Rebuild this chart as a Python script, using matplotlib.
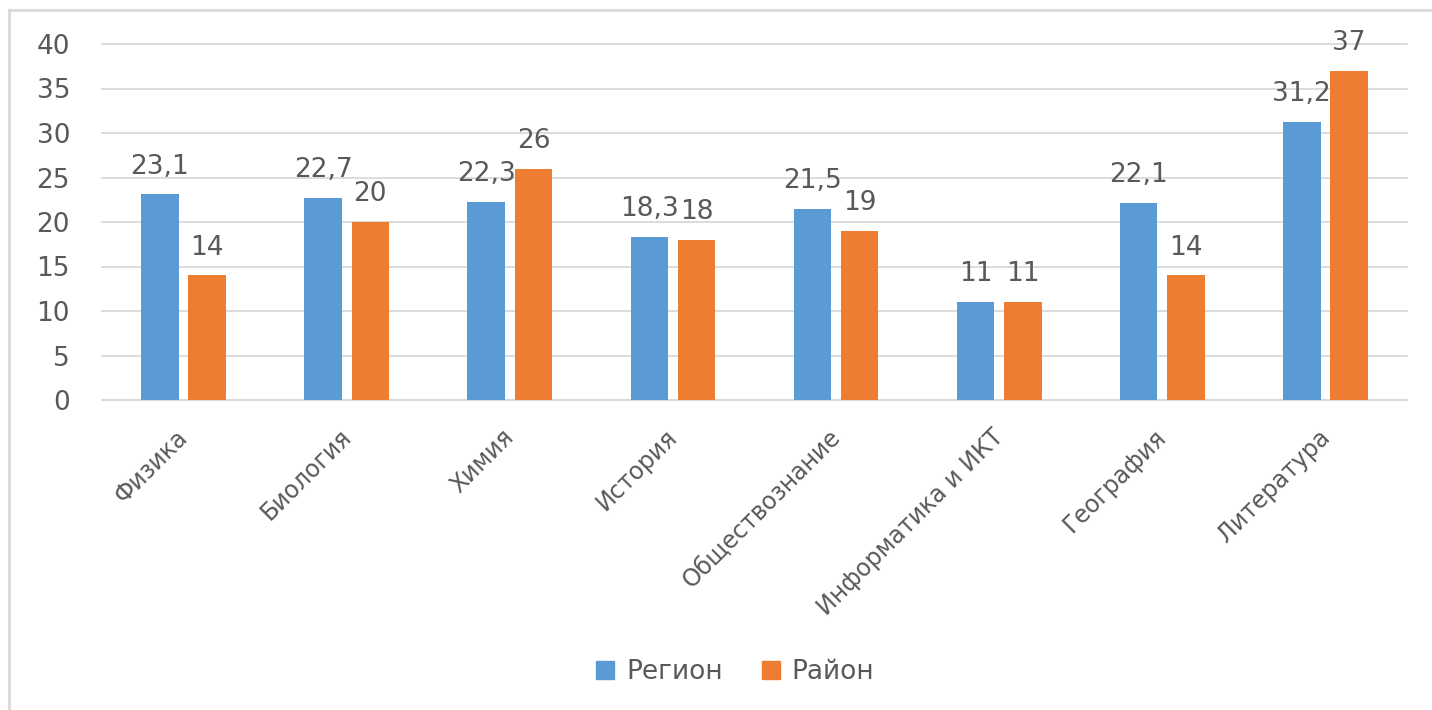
import numpy as np
import matplotlib
matplotlib.use("Agg")
import matplotlib.pyplot as plt
from matplotlib.lines import Line2D
from matplotlib.transforms import ScaledTranslation

# data
subjects = ['Физика', 'Биология', 'Химия', 'История', 'Обществознание',
            'Информатика и ИКТ', 'География', 'Литература']
region = [23.1, 22.7, 22.3, 18.3, 21.5, 11, 22.1, 31.2]
district = [14, 20, 26, 18, 19, 11, 14, 37]
series_names = ['Регион', 'Район']
yticks = [0, 5, 10, 15, 20, 25, 30, 35, 40]

blue = '#5B9BD5'
orange = '#ED7D31'
txt = '#595959'
plt.rcParams['font.family'] = ['DejaVu Sans']

fig = plt.figure(figsize=(14.32, 7.10), dpi=100)
ax = fig.add_axes([102/1432, 1-400/710, 1305/1432, 356/710])

x = np.arange(len(subjects))
w = 0.23
off = 0.145
b1 = ax.bar(x - off, region, w, color=blue, label=series_names[0], zorder=3)
b2 = ax.bar(x + off, district, w, color=orange, label=series_names[1], zorder=3)

def fmt(v):
    return f'{v:g}'.replace('.', ',')

for bars, vals in ((b1, region), (b2, district)):
    for rect, v in zip(bars, vals):
        ax.annotate(fmt(v), (rect.get_x() + rect.get_width()/2, v),
                    xytext=(0, 15), textcoords='offset points',
                    ha='center', va='baseline', fontsize=19, color=txt)

ax.set_xlim(-0.5, len(subjects) - 0.5)
ax.set_ylim(0, 40)
ax.set_yticks(yticks)
ax.yaxis.grid(True, color='#D9D9D9', linewidth=1.3, zorder=0)
for gl in ax.get_ygridlines():
    gl.set_clip_on(False)
ax.set_axisbelow(True)
for s in ['left', 'right', 'top']:
    ax.spines[s].set_visible(False)
ax.spines['bottom'].set_color('#D9D9D9')
ax.spines['bottom'].set_linewidth(1.3)
ax.tick_params(axis='both', length=0, colors=txt, labelsize=19)
ax.tick_params(axis='y', pad=23)

ax.set_xticks(x)
ax.set_xticklabels(subjects, rotation=45, ha='right', va='top',
                   rotation_mode='anchor', fontsize=17)
shift = ScaledTranslation(-8/100, -20/100, fig.dpi_scale_trans)
for lab in ax.get_xticklabels():
    lab.set_transform(lab.get_transform() + shift)

handles = [Line2D([], [], marker='s', linestyle='none', markersize=13,
                  markerfacecolor=c, markeredgecolor=c) for c in (blue, orange)]
fig.legend(handles, series_names, loc='center', bbox_to_anchor=(0.512, 1-672/710),
           ncol=2, frameon=False, fontsize=19, labelcolor=txt,
           handletextpad=0.3, columnspacing=1.3, handlelength=1.0)

# chart area border (only left and top edges are visible)
fig.add_artist(Line2D([9/1432, 9/1432], [0, 1-10/710], transform=fig.transFigure,
                      color='#D9D9D9', linewidth=2))
fig.add_artist(Line2D([9/1432, 1], [1-10/710, 1-10/710], transform=fig.transFigure,
                      color='#D9D9D9', linewidth=2))

fig.savefig('out.png', dpi=100)
